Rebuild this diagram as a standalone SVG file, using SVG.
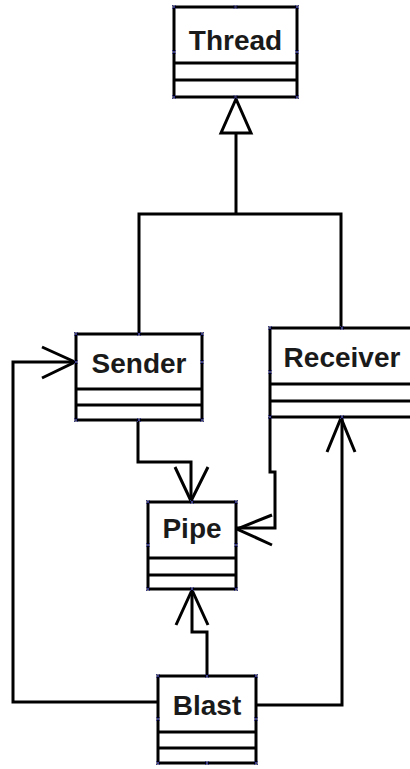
<svg xmlns="http://www.w3.org/2000/svg" xmlns:xlink="http://www.w3.org/1999/xlink" width="410" height="769" viewBox="0 0 410 769">
<style>
.box{fill:#fff;stroke:#000;stroke-width:3}
.div{stroke:#000;stroke-width:3}
.lbl{font-family:"Liberation Sans",Arial,sans-serif;font-weight:bold;font-size:28px;fill:#1a1a1a;text-anchor:middle}
.c{fill:none;stroke:#000;stroke-width:3;stroke-linejoin:miter}
.h{stroke:#3a3a8a;stroke-width:1;fill:none}
</style>
<defs>
<path id="x" class="h" d="M-2,-2 L2,2 M-2,2 L2,-2"/>
</defs>
<rect width="410" height="769" fill="#fff"/>
<g id="connectors">
<path class="c" d="M139,334 V214 H341 V328"/>
<path class="c" d="M236,214 V133"/>
<polygon class="c" points="236,99 221,133 251,133" fill="#fff"/>
<path class="c" d="M138,420 V462 H191 V501"/>
<path class="c" d="M175,467 L191,501 L208,467"/>
<path class="c" d="M270,417 V472 H275 V528 H237"/>
<path class="c" d="M272,515 L237,529 L272,545"/>
<path class="c" d="M158,702 H13 V362 H75"/>
<path class="c" d="M42,347 L75,362 L42,378"/>
<path class="c" d="M256,705 H342 V418"/>
<path class="c" d="M327,452 L341,418 L355,452"/>
<path class="c" d="M207,676 V632 H192 V590"/>
<path class="c" d="M176,625 L192,590 L208,625"/>
</g>
<g id="Thread">
<rect class="box" x="174" y="7" width="123" height="90"/>
<line class="div" x1="174" y1="63" x2="297" y2="63"/>
<line class="div" x1="174" y1="80" x2="297" y2="80"/>
<text class="lbl" x="235.5" y="50">Thread</text>
<use xlink:href="#x" x="174" y="7"/><use xlink:href="#x" x="235.5" y="7"/><use xlink:href="#x" x="297" y="7"/>
<use xlink:href="#x" x="174" y="52"/><use xlink:href="#x" x="297" y="52"/>
<use xlink:href="#x" x="174" y="97"/><use xlink:href="#x" x="235.5" y="97"/><use xlink:href="#x" x="297" y="97"/>
</g>
<g id="Sender">
<rect class="box" x="76" y="334" width="126" height="86"/>
<line class="div" x1="76" y1="389" x2="202" y2="389"/>
<line class="div" x1="76" y1="405" x2="202" y2="405"/>
<text class="lbl" x="139" y="373">Sender</text>
<use xlink:href="#x" x="76" y="334"/><use xlink:href="#x" x="139" y="334"/><use xlink:href="#x" x="202" y="334"/>
<use xlink:href="#x" x="76" y="362"/><use xlink:href="#x" x="202" y="362"/>
<use xlink:href="#x" x="76" y="420"/><use xlink:href="#x" x="139" y="420"/><use xlink:href="#x" x="202" y="420"/>
</g>
<g id="Receiver">
<rect class="box" x="270" y="328" width="144" height="89"/>
<line class="div" x1="270" y1="384" x2="414" y2="384"/>
<line class="div" x1="270" y1="401" x2="414" y2="401"/>
<text class="lbl" x="342" y="367">Receiver</text>
<use xlink:href="#x" x="270" y="328"/><use xlink:href="#x" x="342" y="328"/>
<use xlink:href="#x" x="270" y="372"/>
<use xlink:href="#x" x="270" y="417"/><use xlink:href="#x" x="342" y="417"/>
</g>
<g id="Pipe">
<rect class="box" x="148" y="502" width="88" height="87"/>
<line class="div" x1="148" y1="558" x2="236" y2="558"/>
<line class="div" x1="148" y1="575" x2="236" y2="575"/>
<text class="lbl" x="192" y="538">Pipe</text>
<use xlink:href="#x" x="148" y="502"/><use xlink:href="#x" x="192" y="502"/><use xlink:href="#x" x="236" y="502"/>
<use xlink:href="#x" x="148" y="545"/><use xlink:href="#x" x="236" y="545"/>
<use xlink:href="#x" x="148" y="589"/><use xlink:href="#x" x="192" y="589"/><use xlink:href="#x" x="236" y="589"/>
</g>
<g id="Blast">
<rect class="box" x="158" y="676" width="98" height="87"/>
<line class="div" x1="158" y1="732" x2="256" y2="732"/>
<line class="div" x1="158" y1="748" x2="256" y2="748"/>
<text class="lbl" x="207" y="715">Blast</text>
<use xlink:href="#x" x="158" y="676"/><use xlink:href="#x" x="207" y="676"/><use xlink:href="#x" x="256" y="676"/>
<use xlink:href="#x" x="158" y="719"/><use xlink:href="#x" x="256" y="719"/>
<use xlink:href="#x" x="158" y="763"/><use xlink:href="#x" x="207" y="763"/><use xlink:href="#x" x="256" y="763"/>
</g>
</svg>
